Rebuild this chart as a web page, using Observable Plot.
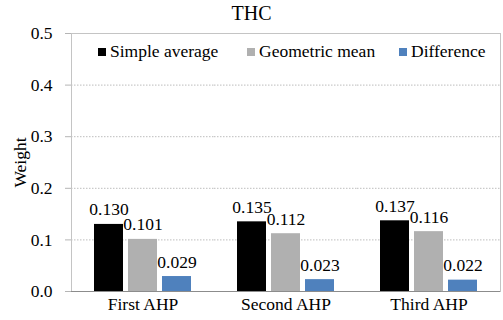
<!DOCTYPE html>
<html><head><meta charset="utf-8">
<script src="https://cdn.jsdelivr.net/npm/d3@7"></script>
<script src="https://cdn.jsdelivr.net/npm/@observablehq/plot@0.6"></script>
<style>
body{margin:0;background:#fff;}
#wrap{position:relative;width:503px;height:320px;font-family:"Liberation Serif","Times New Roman",serif;color:#000;}
#wrap svg{position:absolute;left:0;top:0;}
#title{position:absolute;left:0;width:503px;top:2px;text-align:center;font-size:20px;z-index:2;}
.leg{position:absolute;top:41px;font-size:17.5px;display:flex;align-items:center;white-space:nowrap;z-index:2;font-family:"Liberation Serif","Times New Roman",serif;}
.sw{width:8px;height:8px;margin-right:4px;display:inline-block;}
</style></head><body><div id="wrap"><div id="title">THC</div></div>
<script>
const categories = ["First AHP", "Second AHP", "Third AHP"];
const series = ["Simple average", "Geometric mean", "Difference"];
const simpleAverage = [0.130, 0.135, 0.137];
const geometricMean = [0.101, 0.112, 0.116];
const difference = [0.029, 0.023, 0.022];
const colors = ["#000000", "#b0b0b0", "#4f81bd"];
const yTicks = [0, 0.1, 0.2, 0.3, 0.4, 0.5];

const seriesValues = [simpleAverage, geometricMean, difference];
const data = categories.flatMap((c, i) => series.map((s, j) => ({cat: c, series: s, value: seriesValues[j][i]})));

const chart = Plot.plot({
  width: 503, height: 320,
  marginTop: 33, marginBottom: 29, marginLeft: 70, marginRight: 3,
  style: {fontFamily: '"Liberation Serif", "Times New Roman", serif', fontSize: "17.5px", color: "#000", background: "transparent"},
  fx: {domain: categories, padding: 0},
  x: {domain: series, paddingInner: 0.16, paddingOuter: 0.65, axis: null},
  y: {domain: [0, 0.5]},
  color: {domain: series, range: colors},
  marks: [
    Plot.gridY(yTicks.slice(1, 5), {stroke: "#bdbdbd", strokeOpacity: 1, strokeDasharray: "1.5,1.5"}),
    Plot.frame({anchor: "top", stroke: "#c4c4c4"}),
    Plot.frame({anchor: "left", facetAnchor: "left", stroke: "#c4c4c4"}),
    Plot.frame({anchor: "right", facetAnchor: "right", stroke: "#c4c4c4"}),
    Plot.barY(data, {fx: "cat", x: "series", y: "value", fill: "series"}),
    Plot.ruleY([0], {stroke: "#8c8c8c"}),
    Plot.text(data, {fx: "cat", x: "series", y: "value", text: d => d.value.toFixed(3), dy: -9, lineAnchor: "bottom", fill: "#000"}),
    Plot.axisY({ticks: yTicks, tickSize: 6, tickPadding: 13, tickFormat: ".1f", stroke: "#b5b5b5", strokeOpacity: 1, fill: "#000", label: "Weight", labelAnchor: "center", labelOffset: 58, labelArrow: "none"}),
    Plot.axisFx({anchor: "bottom", tickSize: 0, tickPadding: 6, label: null, fill: "#000"})
  ]
});
const wrap = document.getElementById("wrap");
wrap.appendChild(chart);

const legendLeft = [98, 247, 399];
series.forEach((s, i) => {
  const item = document.createElement("div");
  item.className = "leg";
  item.style.left = legendLeft[i] + "px";
  const sw = document.createElement("span");
  sw.className = "sw";
  sw.style.background = colors[i];
  item.appendChild(sw);
  item.appendChild(document.createTextNode(s));
  wrap.appendChild(item);
});
</script></body></html>
